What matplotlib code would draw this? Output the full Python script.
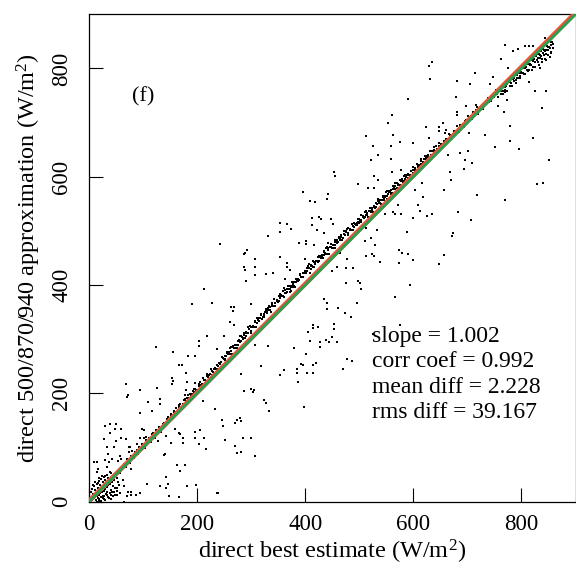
import matplotlib
matplotlib.use("Agg")
import matplotlib.pyplot as plt
import numpy as np

plt.rcParams["font.family"] = ["Liberation Serif", "DejaVu Serif"]
plt.rcParams["mathtext.default"] = "regular"

# --- data (W/m^2): (best estimate, 500/870/940 approximation)
ORIGIN_CLUSTER = [
    (2, 1), (3, 4), (4, 2), (5, 6), (6, 3), (7, 8), (8, 5), (9, 10), (10, 7), (11, 12),
    (12, 9), (13, 3), (14, 14), (15, 11), (16, 6), (17, 17), (18, 13), (19, 2), (20, 19),
    (21, 15), (22, 8), (23, 22), (24, 18), (25, 11), (26, 25), (27, 20), (28, 4), (29, 28),
    (30, 24), (31, 14), (32, 30), (33, 27), (34, 18), (35, 34), (36, 30), (37, 7), (38, 37),
    (39, 33), (40, 22), (42, 41), (43, 36), (44, 28), (46, 45), (47, 40), (48, 12), (50, 49),
    (52, 44), (54, 36), (55, 55), (58, 52), (60, 60),
    (4, 18), (6, 24), (8, 14), (10, 28), (12, 22), (14, 33), (16, 26), (18, 38), (20, 30),
    (22, 42), (25, 36), (28, 46), (30, 40), (33, 50), (36, 44), (38, 55), (41, 52),
    (15, 0), (18, 4), (22, 2), (25, 6), (28, 10), (30, 3), (33, 12), (35, 8), (38, 15),
    (40, 5), (42, 18), (45, 10), (48, 25), (52, 20), (55, 30), (58, 15), (62, 40), (65, 28),
]

BAND_LOW = [
    (62, 66), (65, 70), (68, 64), (70, 78), (73, 75), (76, 72), (78, 85), (80, 84), (83, 80),
    (86, 92), (88, 95), (90, 88), (93, 100), (96, 97), (98, 106), (100, 104), (103, 99),
    (106, 114), (108, 112), (111, 117), (114, 110), (116, 124), (119, 126), (122, 118),
    (124, 133), (127, 131), (130, 137), (133, 129), (136, 144), (138, 146), (141, 139),
    (144, 153), (147, 156), (150, 148), (152, 162), (155, 160), (158, 167), (161, 172),
    (164, 168), (166, 178), (169, 180), (172, 175), (175, 187), (178, 190), (180, 186),
    (183, 196), (186, 199), (189, 195), (192, 205), (195, 208), (198, 204),
]

BAND_MID = [
    (201, 205), (204, 217), (207, 216), (210, 228), (213, 224), (216, 223), (219, 236),
    (222, 233), (225, 245), (228, 233), (231, 245), (234, 244), (237, 244), (240, 256),
    (243, 254), (246, 267), (249, 263), (252, 262), (255, 275), (258, 272), (261, 284),
    (264, 272), (267, 285), (270, 283), (273, 283), (276, 296), (279, 294), (282, 306),
    (285, 303), (288, 302), (291, 314), (294, 311), (297, 324), (300, 312), (303, 324),
    (306, 322), (309, 323), (312, 335), (315, 333), (318, 345), (321, 341), (324, 341),
    (327, 353), (330, 350), (333, 362), (336, 350), (339, 362), (342, 361), (345, 361),
    (348, 373), (351, 371), (354, 383), (357, 379), (360, 378), (363, 390), (366, 387),
    (369, 399), (372, 387), (375, 399), (378, 397), (381, 397), (384, 409), (387, 407),
    (390, 419), (393, 415), (396, 414), (399, 426), (402, 423), (405, 435), (408, 423),
    (411, 435), (414, 433), (417, 433), (420, 445), (423, 442), (426, 454), (429, 450),
    (432, 449), (435, 461), (438, 458), (441, 470), (444, 458), (447, 470), (450, 468),
    (453, 468), (456, 479), (459, 477), (462, 489), (465, 485), (468, 484), (471, 495),
    (474, 492), (477, 504), (480, 492), (483, 503), (486, 501), (489, 501), (492, 513),
    (495, 510), (498, 522), (501, 518), (504, 517), (507, 528), (510, 525), (513, 537),
    (516, 525), (519, 537), (522, 534), (525, 534), (528, 546), (531, 544), (534, 556),
    (537, 552), (540, 550), (543, 562), (546, 559), (549, 571), (552, 559), (555, 571),
    (558, 568), (561, 568), (564, 580), (567, 578), (570, 589), (573, 585), (576, 584),
    (579, 596), (582, 592), (585, 604), (588, 592), (591, 604), (594, 601), (597, 601),
    (600, 613), (603, 611), (606, 623), (609, 618), (612, 617), (615, 629), (618, 626),
    (621, 638), (624, 625), (627, 637), (630, 635), (633, 635), (636, 647), (639, 645),
    (642, 656), (645, 652), (648, 651),
]

BAND_CORE = [
    (152, 158), (155, 158), (158, 166), (161, 166), (164, 170), (167, 175), (170, 173),
    (173, 181), (176, 187), (179, 184), (182, 191), (185, 191), (188, 199), (191, 199),
    (194, 203), (197, 208), (200, 207), (203, 214), (206, 220), (209, 217), (212, 224),
    (215, 224), (218, 232), (221, 231), (224, 236), (227, 241), (230, 239), (233, 246),
    (236, 253), (239, 250), (242, 256), (245, 257), (248, 265), (251, 264), (254, 268),
    (257, 274), (260, 272), (263, 279), (266, 285), (269, 283), (272, 289), (275, 289),
    (278, 298), (281, 297), (284, 301), (287, 307), (290, 305), (293, 312), (296, 319),
    (299, 316), (302, 322), (305, 322), (308, 331), (311, 330), (314, 334), (317, 339),
    (320, 338), (323, 345), (326, 351), (329, 348), (332, 354), (335, 354), (338, 363),
    (341, 362), (344, 366), (347, 371), (350, 369), (353, 376), (356, 382), (359, 379),
    (362, 385), (365, 385), (368, 393), (371, 392), (374, 396), (377, 401), (380, 399),
    (383, 406), (386, 412), (389, 409), (392, 415), (395, 415), (398, 423), (401, 422),
    (404, 426), (407, 431), (410, 429), (413, 436), (416, 442), (419, 439), (422, 445),
    (425, 444), (428, 452), (431, 451), (434, 455), (437, 460), (440, 458), (443, 465),
    (446, 471), (449, 468), (452, 474), (455, 473), (458, 481), (461, 480), (464, 484),
    (467, 489), (470, 486), (473, 493), (476, 499), (479, 496), (482, 501), (485, 501),
    (488, 509), (491, 508), (494, 511), (497, 516), (500, 514), (503, 521), (506, 526),
    (509, 523), (512, 529), (515, 529), (518, 537), (521, 535), (524, 539), (527, 544),
    (530, 542), (533, 549), (536, 555), (539, 551), (542, 557), (545, 557), (548, 565),
    (551, 564), (554, 568), (557, 572), (560, 570), (563, 577), (566, 583), (569, 579),
    (572, 585), (575, 585), (578, 593), (581, 591), (584, 595), (587, 600), (590, 598),
    (593, 604), (596, 610), (599, 607), (602, 613), (605, 613), (608, 620), (611, 619),
    (614, 623), (617, 628), (620, 626), (623, 632), (626, 638), (629, 635), (632, 641),
    (635, 641), (638, 649), (641, 647), (644, 651), (647, 656), (650, 654), (653, 661),
    (656, 666), (659, 663), (662, 669), (665, 669), (668, 677), (671, 675), (674, 679),
    (677, 684), (680, 682), (683, 689), (686, 695), (689, 691), (692, 697), (695, 697),
    (698, 705), (701, 704), (704, 708), (707, 712), (710, 710), (713, 717), (716, 723),
    (719, 719), (722, 725), (725, 725), (728, 733), (731, 731), (734, 735), (737, 740),
    (740, 738), (743, 744), (746, 750), (749, 747), (752, 753), (755, 752), (758, 760),
    (761, 759), (764, 763), (767, 767), (770, 765), (773, 772), (776, 778), (779, 775),
    (782, 780), (785, 780), (788, 788), (791, 787), (794, 791), (797, 796), (800, 794),
    (803, 800), (806, 806), (809, 803), (812, 808), (815, 808), (818, 816), (821, 814),
    (824, 818), (827, 823), (830, 820), (833, 827), (836, 832), (839, 829), (842, 834),
    (845, 834), (848, 841), (851, 840), (854, 843), (857, 848),
]

BAND_UPPER = [
    (251, 269), (255, 277), (259, 276), (263, 286), (267, 288), (271, 290), (275, 297),
    (279, 305), (283, 304), (287, 312), (291, 311), (295, 322), (299, 323), (303, 325),
    (307, 333), (311, 340), (315, 339), (319, 347), (323, 346), (327, 356), (331, 357),
    (335, 359), (339, 367), (343, 374), (347, 373), (351, 380), (355, 379), (359, 389),
    (363, 390), (367, 392), (371, 399), (375, 406), (379, 405), (383, 412), (387, 411),
    (391, 421), (395, 422), (399, 424), (403, 431), (407, 438), (411, 437), (415, 444),
    (419, 443), (423, 452), (427, 453), (431, 455), (435, 462), (439, 469), (443, 468),
    (447, 475), (451, 474), (455, 483), (459, 484), (463, 486), (467, 493), (471, 499),
    (475, 498), (479, 505), (483, 503), (487, 513), (491, 514), (495, 515), (499, 522),
    (503, 529), (507, 527), (511, 534), (515, 533), (519, 543), (523, 543), (527, 545),
    (531, 552), (535, 559), (539, 557), (543, 564), (547, 563), (551, 573), (555, 574),
    (559, 575), (563, 582), (567, 589), (571, 587), (575, 594), (579, 593), (583, 602),
    (587, 603), (591, 605), (595, 611), (599, 618), (603, 617), (607, 624), (611, 622),
    (615, 632), (619, 633), (623, 634), (627, 641), (631, 648), (635, 647), (639, 654),
    (643, 652), (647, 662),
]

BAND_HIGH = [
    (651, 660), (654, 658), (657, 657), (660, 669), (663, 667), (666, 679), (669, 675),
    (672, 673), (675, 685), (678, 682), (681, 694), (684, 682), (687, 694), (690, 691),
    (693, 691), (696, 703), (699, 701), (702, 713), (705, 709), (708, 707), (711, 719),
    (714, 716), (717, 728), (720, 715), (723, 727), (726, 725), (729, 725), (732, 736),
    (735, 734), (738, 746), (741, 742), (744, 740), (747, 752), (750, 749), (753, 761),
    (756, 748), (759, 760), (762, 758), (765, 758), (768, 769), (771, 767), (774, 779),
    (777, 775), (780, 773), (783, 785), (786, 782), (789, 794), (792, 782), (795, 794),
    (798, 792), (801, 791), (804, 803), (807, 801), (810, 813), (813, 808), (816, 807),
    (819, 819), (822, 815), (825, 827), (828, 815), (831, 826), (834, 824), (837, 823),
    (840, 835), (843, 832), (846, 844), (849, 839), (852, 838), (855, 849), (858, 845),
    (820, 798), (826, 802), (832, 806), (838, 812), (844, 818), (850, 825), (855, 830),
    (835, 800), (845, 815), (852, 822), (812, 795), (805, 790), (798, 786), (790, 778),
]

BAND_LOWER = [
    (762, 753), (766, 753), (770, 761), (774, 759), (778, 767), (782, 768), (786, 777),
    (790, 773), (794, 783), (798, 783), (802, 791), (806, 789), (810, 797), (814, 798),
    (818, 807), (822, 802), (826, 812), (830, 811), (834, 820), (838, 817), (842, 824),
    (846, 826), (850, 834), (854, 829), (858, 838),
]

OUTLIERS_HIGH = [
    (243, 475), (289, 460), (292, 464), (286, 457),
    (590, 743), (561, 714), (553, 700), (513, 676), (563, 678), (526, 657), (559, 657),
    (576, 664), (600, 663), (535, 641), (521, 630), (559, 633), (453, 609), (456, 601),
    (560, 608), (577, 612), (528, 601), (534, 594), (498, 587), (517, 580), (527, 580),
    (396, 572), (443, 568), (441, 559), (409, 556), (418, 553), (572, 548), (600, 524),
    (563, 535), (566, 531), (577, 531), (548, 532), (426, 526), (430, 522), (412, 524),
    (447, 522), (353, 514), (366, 512), (412, 511), (373, 504), (452, 513), (354, 498),
    (422, 502), (435, 496), (331, 491), (513, 506), (532, 502), (588, 498), (388, 477),
    (402, 481), (402, 476), (443, 477), (416, 474), (510, 481), (521, 487), (530, 474),
    (353, 452), (400, 448), (308, 448), (366, 440), (455, 468), (464, 460), (478, 448),
    (513, 454), (523, 457), (528, 454), (539, 442), (574, 465), (579, 459), (590, 457),
    (600, 446), (573, 440),
    (770, 843), (785, 833), (794, 835), (806, 841), (814, 841), (822, 841), (843, 857),
    (763, 818), (629, 804), (635, 812), (631, 781), (714, 791), (681, 777), (705, 771),
    (747, 784), (742, 772), (775, 801), (814, 775), (825, 758), (846, 758), (679, 748),
    (769, 756), (697, 731), (716, 732), (681, 720), (681, 714), (756, 731), (773, 742),
    (768, 719), (838, 727), (624, 692), (654, 700), (648, 691), (648, 684), (661, 686),
    (659, 680), (629, 672), (681, 680), (703, 681), (732, 678), (779, 694), (822, 671),
    (779, 666), (751, 655), (796, 651), (687, 644), (702, 647), (664, 640), (696, 631),
    (709, 626), (851, 630), (694, 615), (667, 608), (669, 594), (616, 588), (657, 576),
    (603, 576), (718, 566), (618, 563), (828, 587), (840, 589), (770, 557), (609, 548),
    (613, 537), (625, 527), (635, 531), (683, 535), (707, 521), (673, 496), (671, 491),
    (657, 456), (648, 439),
]

OUTLIERS_LOW = [
    (286, 434), (288, 428), (291, 408), (212, 393), (191, 365), (227, 367), (262, 360),
    (268, 360), (266, 352), (300, 365), (260, 332), (269, 326), (219, 305), (203, 297),
    (203, 287), (250, 306), (236, 282), (124, 286), (155, 276), (184, 268), (197, 269),
    (166, 253), (172, 253), (153, 228), (156, 223), (180, 237), (182, 221), (197, 219),
    (210, 185), (233, 171), (68, 218), (94, 206), (71, 194), (73, 196), (125, 210),
    (131, 189), (132, 181), (109, 184), (117, 167), (95, 164), (153, 217), (180, 207),
    (177, 197), (246, 151), (247, 140), (271, 145), (274, 151), (282, 148), (299, 118),
    (284, 117), (252, 114), (273, 90), (203, 107), (196, 129), (166, 127), (169, 124),
    (159, 135), (143, 122), (128, 112), (129, 130), (151, 108), (174, 117), (173, 108),
    (217, 97), (138, 86), (141, 88), (163, 68), (177, 68), (169, 57), (143, 45), (108, 33),
    (131, 28), (146, 33), (143, 26), (181, 29), (148, 10), (166, 8), (236, 16), (101, 132),
    (98, 135), (94, 117), (101, 117), (105, 120), (88, 106), (69, 116), (80, 93), (77, 61),
    (74, 92), (74, 101), (76, 100), (57, 84), (60, 117), (48, 135), (50, 143), (38, 143),
    (29, 140), (59, 134), (39, 126), (50, 112), (28, 115), (34, 101), (46, 101), (35, 88),
    (30, 76), (43, 78), (37, 74), (34, 63), (53, 75), (59, 79), (16, 61), (14, 55), (24, 47),
    (19, 43), (30, 48), (11, 37), (16, 34), (8, 31), (15, 73), (10, 74), (47, 18), (51, 13),
    (41, 12), (52, 25), (65, 0), (71, 10), (73, 18), (78, 12), (87, 12), (95, 15), (77, 18),
    (198, 31), (238, 16), (281, 236), (279, 155), (286, 204), (299, 208), (271, 103),
    (281, 92), (205, 132), (196, 117), (212, 118),
    (308, 434), (340, 422), (327, 420), (308, 418), (366, 434), (371, 428), (362, 412),
    (360, 395), (373, 389), (488, 432), (475, 432), (449, 425), (459, 433), (475, 404),
    (497, 408), (502, 403), (504, 392), (567, 377), (593, 400), (434, 374), (441, 367),
    (441, 356), (460, 358), (473, 349), (484, 341), (496, 367), (453, 328), (454, 318),
    (414, 327), (415, 320), (424, 323), (406, 314), (438, 299), (444, 294), (449, 304),
    (409, 297), (427, 295), (427, 286), (459, 295), (380, 284), (401, 273), (392, 255),
    (396, 252), (414, 253), (420, 256), (414, 238), (403, 238), (385, 244), (385, 237),
    (360, 243), (353, 234), (318, 251), (308, 289), (332, 287), (478, 264), (487, 260),
    (469, 245), (386, 220), (303, 203), (306, 206), (324, 188), (328, 183), (333, 168),
    (398, 175), (308, 85), (525, 309), (576, 326),
]

FIT_SLOPE = 1.002
FIT_INTERCEPT = 1.0
STATS = ["slope = 1.002", "corr coef = 0.992", "mean diff = 2.228", "rms diff = 39.167"]
TICKS = [0, 200, 400, 600, 800]

RED = "#ea5530"
GREEN = "#27a055"

fig = plt.figure(figsize=(5.76, 5.66), dpi=100)
ax = fig.add_axes([89 / 576, 1 - 501.6 / 566, 486.5 / 576, 487.3 / 566])

groups = (ORIGIN_CLUSTER, BAND_LOW, BAND_MID, BAND_CORE, BAND_UPPER, BAND_HIGH,
          BAND_LOWER, OUTLIERS_HIGH, OUTLIERS_LOW)
for group in groups:
    pts = np.array(group, dtype=float)
    ax.plot(pts[:, 0], pts[:, 1], ls="none", marker="s", ms=1.5, mew=0,
            color="black", antialiased=False, zorder=2)

xs = np.array([0, 900])
ax.plot(xs, FIT_SLOPE * xs + FIT_INTERCEPT, color=RED, lw=3.4, zorder=3,
        solid_capstyle="round")
ax.plot(xs, xs, color=GREEN, lw=2.0, zorder=4, solid_capstyle="round")

ax.set_xlim(0, 900)
ax.set_ylim(0, 900)
ax.set_xticks(TICKS)
ax.set_yticks(TICKS)
ax.tick_params(direction="in", length=10, width=0.8, labelsize=16.5)
ax.tick_params(axis="x", pad=9)
ax.tick_params(axis="y", pad=12)
for lab in ax.get_yticklabels():
    lab.set_rotation(90)
    lab.set_va("center")
for sp in ax.spines.values():
    sp.set_linewidth(0.9)

ax.set_xlabel("direct best estimate (W/m$^2$)", fontsize=17.5, labelpad=2)
ax.set_ylabel("direct 500/870/940 approximation (W/m$^2$)", fontsize=17.5, labelpad=6)

ax.text(100, 748, "(f)", fontsize=16, ha="center", va="center")
for i, line in enumerate(STATS):
    ax.text(524, 295 - i * 47, line, fontsize=17, ha="left", va="baseline")

fig.savefig("out.png", dpi=100)
